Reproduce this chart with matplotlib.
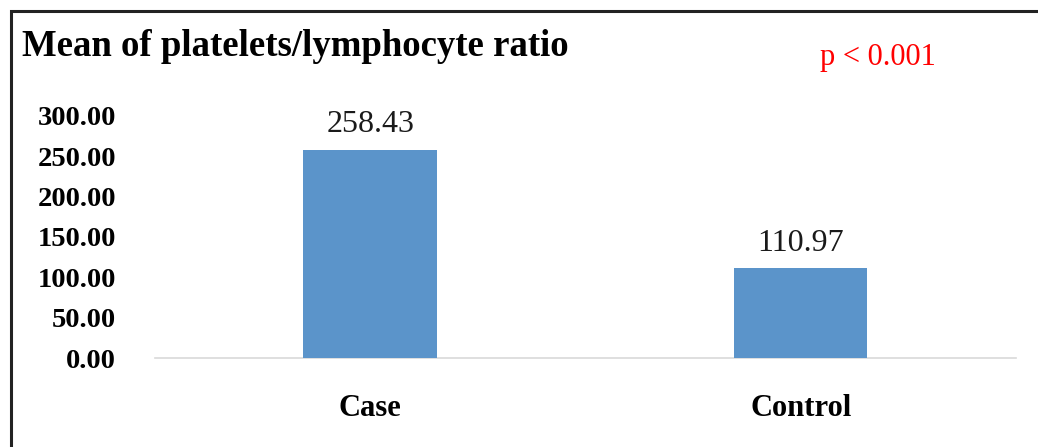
import matplotlib
matplotlib.use('Agg')
import matplotlib.pyplot as plt
from matplotlib.patches import Rectangle

# Chart data
categories = ['Case', 'Control']
means = [258.43, 110.97]
value_labels = ['258.43', '110.97']
y_ticks = [0, 50, 100, 150, 200, 250, 300]

plt.rcParams['font.family'] = ['Liberation Serif', 'DejaVu Serif']

fig = plt.figure(figsize=(10.38, 4.47), dpi=100)
ax = fig.add_axes([0.1493, 0.1991, 0.8295, 0.5414])

x = list(range(len(categories)))
ax.bar(x, means, width=0.31, color='#5B94CA', zorder=3)
ax.set_xlim(-0.5, len(categories) - 0.5)
ax.set_ylim(0, 300)

# Value labels above the bars
for xi, v, lab in zip(x, means, value_labels):
    ax.text(xi, v + 13, lab, ha='center', va='bottom', fontsize=23, color='#1a1a1a')

ax.set_yticks(y_ticks)
ax.set_yticklabels(['{:.2f}'.format(t) for t in y_ticks], fontsize=20.5, fontweight='bold')
ax.set_xticks(x)
ax.set_xticklabels(categories, fontsize=22, fontweight='bold')
ax.tick_params(axis='y', length=0, pad=28)
ax.tick_params(axis='x', length=0, pad=26)

for side in ['top', 'right', 'left']:
    ax.spines[side].set_visible(False)
ax.spines['bottom'].set_color('#D9D9D9')
ax.spines['bottom'].set_linewidth(1.2)

# Title and p-value
fig.text(22 / 1038, 1 - 46 / 447, 'Mean of platelets/lymphocyte ratio', fontsize=26.5,
         fontweight='bold', ha='left', va='center')
fig.text(878 / 1038, 1 - 58 / 447, 'p < 0.001', fontsize=22, color='#FF0000',
         ha='center', va='center')

# Outer frame (cut off at right and bottom)
fig.add_artist(Rectangle((10.5 / 1038, -0.1), 1.2, 1.1 - 11.5 / 447, transform=fig.transFigure,
                         fill=False, edgecolor='#222222', linewidth=2.2))

fig.savefig('out.png', dpi=100)
